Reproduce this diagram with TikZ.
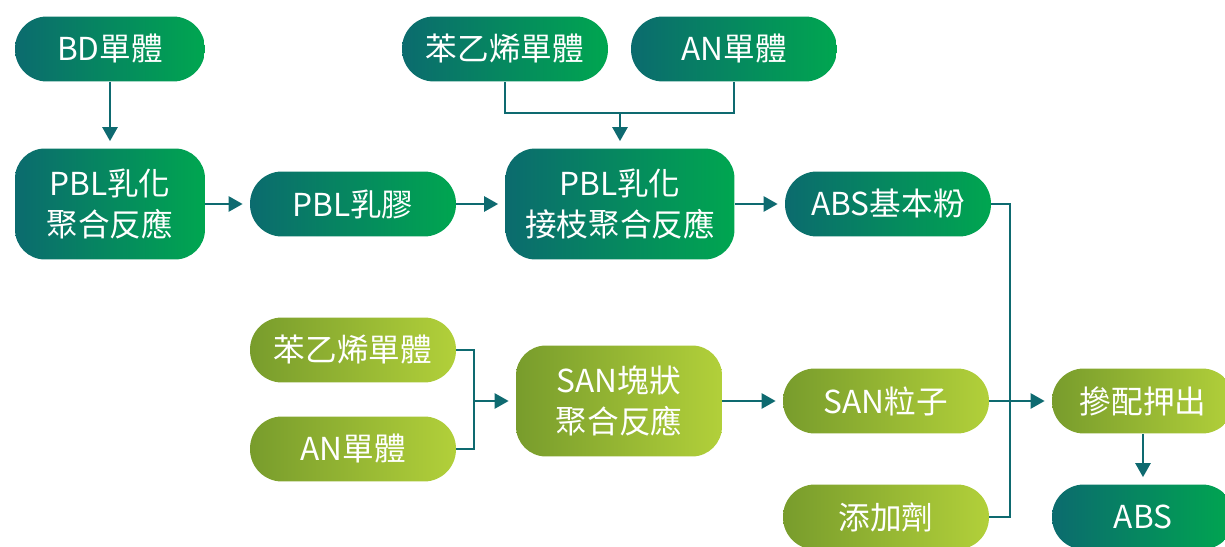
\documentclass[tikz,border=0pt]{standalone}
\usepackage{fontspec}
\setmainfont{Noto Sans CJK TC}
\usetikzlibrary{arrows.meta}

\definecolor{tealdk}{HTML}{0B6B6E}
\definecolor{greenbr}{HTML}{00A650}
\definecolor{limedk}{HTML}{789C2C}
\definecolor{limelt}{HTML}{B2D03A}
\definecolor{linecol}{HTML}{0E6A70}

\tikzset{
  pill/.style={rectangle, rounded corners=0.64cm, minimum width=4.12cm,
    minimum height=1.3cm, text=white, align=center, inner sep=0pt,
    font=\fontsize{18}{23}\selectfont},
  stepbox/.style={pill, minimum height=2.22cm, rounded corners=0.6cm},
  tealfill/.style={left color=tealdk, right color=greenbr},
  limefill/.style={left color=limedk, right color=limelt},
  link/.style={draw=linecol, line width=1.4pt},
  flow/.style={link, -{Triangle[length=0.28cm,width=0.3cm]}, shorten >=0.14cm},
}

\begin{document}
\begin{tikzpicture}[x=0.02cm, y=-0.02cm]
\useasboundingbox (0,0) rectangle (1225,547);

% Upper row (PBL line)
\node[pill, tealfill, minimum width=3.8cm] (bd) at (110,49) {BD單體};
\node[stepbox, tealfill, minimum width=3.8cm] (pblemul) at (110,204) {PBL乳化\\聚合反應};
\node[pill, tealfill] (latex) at (353,204) {PBL乳膠};
\node[pill, tealfill] (styA) at (505,49) {苯乙烯單體};
\node[pill, tealfill] (anA) at (734,49) {AN單體};
\node[stepbox, tealfill, minimum width=4.58cm] (graft) at (620,204) {PBL乳化\\接枝聚合反應};
\node[pill, tealfill] (abspow) at (888,204) {ABS基本粉};

% Lower row (SAN line)
\node[pill, limefill] (styB) at (353,350) {苯乙烯單體};
\node[pill, limefill] (anB) at (353,449) {AN單體};
\node[stepbox, limefill] (san) at (619,401) {SAN塊狀\\聚合反應};
\node[pill, limefill] (sanpel) at (886,401) {SAN粒子};
\node[pill, limefill] (addi) at (886,517) {添加劑};

% Blending and product
\node[pill, limefill, minimum width=3.64cm] (blend) at (1143,401) {摻配押出};
\node[pill, tealfill, minimum width=3.64cm] (abs) at (1143,517) {ABS};

% Junctions
\coordinate (jtop) at (620,113);
\coordinate (jmid) at (474,401);
\coordinate (jbus) at (1010,401);

% Connectors
\draw[flow] (bd) -- (pblemul);
\draw[flow] (pblemul) -- (latex);
\draw[flow] (latex) -- (graft);
\draw[flow] (graft) -- (abspow);
\draw[link] (styA.south) |- (jtop) -| (anA.south);
\draw[flow] (jtop) -- (graft);
\draw[link] (styB.east) -| (jmid) |- (anB.east);
\draw[flow] (jmid) -- (san);
\draw[flow] (san) -- (sanpel);
\draw[link] (abspow.east) -| (jbus) |- (addi.east);
\draw[flow] (sanpel) -- (blend);
\draw[flow] (blend) -- (abs);
\end{tikzpicture}
\end{document}
